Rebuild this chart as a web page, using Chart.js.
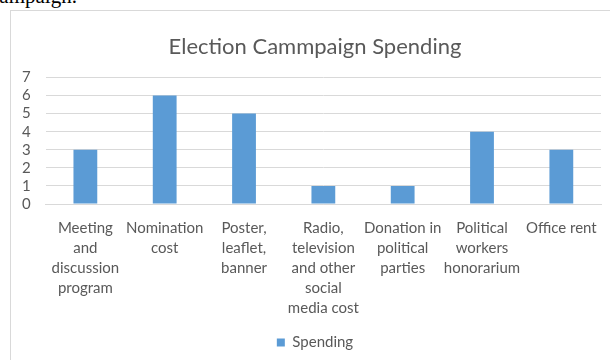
<!DOCTYPE html>
<html>
<head>
<meta charset="utf-8">
<script src="https://cdn.jsdelivr.net/npm/chart.js@4"></script>
<style>
  html, body { margin: 0; padding: 0; background: #fff; overflow: hidden; }
  body { width: 610px; height: 360px; position: relative; }
  #para {
    position: absolute; left: -10px; top: -16px;
    font: 21px "Liberation Serif", serif; color: #000;
  }
  #box {
    position: absolute; left: 10px; top: 10px; width: 640px; height: 400px;
    border: 1px solid #d9d9d9; box-sizing: border-box;
  }
  #wrap { position: absolute; left: 11px; top: 11px; width: 612px; height: 349px; }
</style>
</head>
<body>
<div id="para">campaign.</div>
<div id="box"></div>
<div id="wrap"><canvas id="chart"></canvas></div>
<script>
// ================================
// DATA
// ================================
const categories = [
  ['Meeting', 'and', 'discussion', 'program'],
  ['Nomination', 'cost'],
  ['Poster,', 'leaflet,', 'banner'],
  ['Radio,', 'television', 'and other', 'social', 'media cost'],
  ['Donation in', 'political', 'parties'],
  ['Political', 'workers', 'honorarium'],
  ['Office rent']
];
const spending = [3, 6, 5, 1, 1, 4, 3];
const yTicks = [0, 1, 2, 3, 4, 5, 6, 7];

// ================================
// CHART
// ================================
const TEXT = '#595959';
const GRID = '#d9d9d9';
const FONT = 'Lato, "Open Sans", sans-serif';

new Chart(document.getElementById('chart'), {
  type: 'bar',
  data: {
    labels: categories,
    datasets: [{
      label: 'Spending',
      data: spending,
      backgroundColor: '#5b9bd5',
      borderWidth: 0,
      barPercentage: 1,
      categoryPercentage: 0.3
    }]
  },
  options: {
    responsive: true,
    maintainAspectRatio: false,
    animation: false,
    layout: { padding: { left: -4, right: 0, top: 10, bottom: 0 } },
    plugins: {
      title: {
        display: true,
        text: 'Election Cammpaign Spending',
        color: TEXT,
        font: { family: FONT, size: 22, weight: 'normal' },
        padding: { top: 13, bottom: 17 }
      },
      legend: {
        position: 'bottom',
        labels: {
          color: TEXT,
          font: { family: FONT, size: 15 },
          boxWidth: 8,
          boxHeight: 8,
          padding: 6
        }
      },
      tooltip: { enabled: false }
    },
    scales: {
      x: {
        grid: { display: false },
        border: { color: GRID },
        afterFit: (axis) => { axis.height += 5; },
        ticks: {
          color: TEXT,
          font: { family: FONT, size: 15, lineHeight: 1.333 },
          maxRotation: 0,
          autoSkip: false,
          padding: 6
        }
      },
      y: {
        min: yTicks[0],
        max: yTicks[yTicks.length - 1],
        grid: { color: GRID, drawTicks: false },
        border: { display: false },
        afterBuildTicks: (axis) => { axis.ticks = yTicks.map(v => ({ value: v })); },
        ticks: {
          color: TEXT,
          font: { family: FONT, size: 15 },
          stepSize: 1,
          autoSkip: false,
          padding: 15
        }
      },
      // empty right margin, as in the original chart frame
      yRight: {
        position: 'right',
        grid: { display: false },
        border: { display: false },
        ticks: { display: false },
        afterFit: (axis) => { axis.width = 22; }
      }
    }
  }
});
</script>
</body>
</html>
